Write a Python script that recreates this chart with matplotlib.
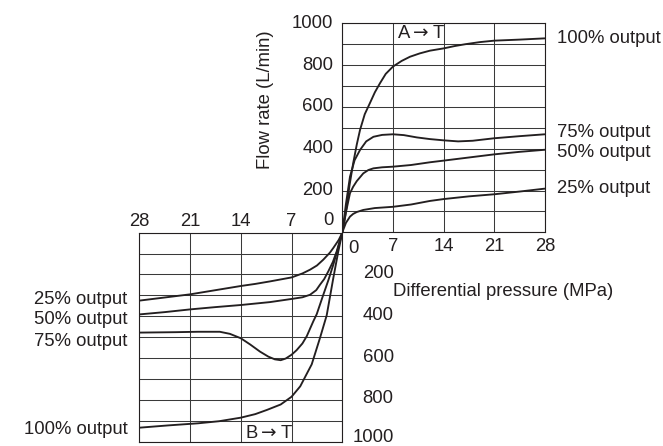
import matplotlib
matplotlib.use("Agg")
import matplotlib.pyplot as plt
from matplotlib.transforms import ScaledTranslation

plt.rcParams['font.family'] = ['Liberation Sans', 'DejaVu Sans']
plt.rcParams['font.size'] = 13.3

INK = '#231f20'
GRID = '#3a3a3a'

# --- A -> T (upper right), pressure in MPa, flow in L/min ---
at_100_x = [0, 0.3, 0.6, 1.0, 1.5, 2.0, 2.45, 3.1, 3.8, 4.5, 5.2, 6.0, 7, 8.2, 9.35, 10.7, 12.1, 14, 15.5, 17, 19, 21, 24.5, 28]
at_100_y = [0, 55, 122, 225, 330, 420, 490, 565, 617, 670, 713, 758, 793, 820, 840, 856, 869, 880, 891, 900, 910, 917, 922, 928]
at_75_x = [0, 0.5, 1.06, 1.7, 2.45, 3.3, 4.3, 5.5, 7, 8.5, 10.3, 12.1, 14, 16, 18, 21, 24.5, 28]
at_75_y = [0, 135, 266, 345, 394, 435, 457, 466, 469, 465, 454, 446, 440, 435, 438, 450, 460, 469]
at_50_x = [0, 0.5, 1.06, 1.5, 2.0, 2.9, 3.6, 4.3, 5.5, 7, 9.5, 12.1, 14, 17.5, 21, 24.5, 28]
at_50_y = [0, 95, 187, 218, 245, 282, 298, 306, 311, 314, 322, 335, 343, 358, 373, 385, 395]
at_25_x = [0, 0.5, 1.06, 1.5, 2.0, 2.9, 4.5, 7, 9.5, 12.1, 14, 17.5, 21, 24.5, 28]
at_25_y = [0, 45, 75, 88, 97, 107, 116, 122, 133, 150, 159, 172, 182, 195, 209]

# --- B -> T (lower left), same units, both axes reversed ---
bt_25_x = [0, 0.5, 1.24, 1.7, 2.62, 3.5, 4.45, 5.5, 7, 9.97, 12, 14, 17.5, 21, 24.5, 28]
bt_25_y = [0, 35, 73, 95, 129, 157, 177, 195, 214, 233, 245, 255, 275, 295, 310, 325]
bt_50_x = [0, 0.4, 0.77, 1.3, 1.93, 2.5, 3.08, 3.6, 4.45, 5.5, 7, 9.97, 14, 17.5, 21, 24.5, 28]
bt_50_y = [0, 45, 89, 140, 185, 222, 249, 275, 297, 309, 317, 332, 346, 356, 367, 380, 391]
bt_75_x = [0, 0.6, 1.24, 1.9, 2.62, 3.53, 4.0, 4.9, 5.5, 6.3, 7, 7.8, 8.5, 9.3, 10.2, 11.35, 12.7, 14, 15.5, 16.9, 19.9, 23, 28]
bt_75_y = [0, 75, 153, 225, 297, 390, 424, 495, 530, 562, 584, 602, 610, 606, 593, 569, 535, 505, 484, 474, 474, 476, 478]
bt_100_x = [0, 0.55, 1.24, 2.15, 3.08, 4.22, 4.9, 5.8, 7, 8.5, 10.4, 12, 14, 17, 19.9, 24, 28]
bt_100_y = [0, 89, 217, 395, 504, 630, 675, 735, 785, 822, 848, 868, 885, 902, 912, 922, 933]

p_ticks = [0, 7, 14, 21, 28]
q_major = [0, 200, 400, 600, 800, 1000]
q_minor = [100, 300, 500, 700, 900]

W, H = 663, 446


def px_rect(l, t, r, b):
    return [l / W, 1 - b / H, (r - l) / W, (b - t) / H]


fig = plt.figure(figsize=(W / 100, H / 100), dpi=100)
ax1 = fig.add_axes(px_rect(342.3, 23.3, 545, 232.3))
ax2 = fig.add_axes(px_rect(139.3, 232.7, 342.3, 441.7))

for ax in (ax1, ax2):
    ax.set_xticks(p_ticks)
    ax.set_yticks(q_major)
    ax.set_yticks(q_minor, minor=True)
    ax.grid(True, which='both', color=GRID, lw=0.75)
    ax.tick_params(which='both', length=0, colors=INK, labelsize=13.3)
    for s in ax.spines.values():
        s.set_color(INK)
        s.set_linewidth(0.8)

# upper right
ax1.set_xlim(0, 28)
ax1.set_ylim(0, 1000)
ax1.set_xticklabels([''] + [str(v) for v in p_ticks[1:]])
ax1.set_yticklabels([''] + [str(v) for v in q_major[1:]])
ax1.tick_params(axis='x', pad=4)
ax1.tick_params(axis='y', pad=6.5)

# lower left
ax2.set_xlim(28, 0)
ax2.set_ylim(1000, 0)
ax2.xaxis.tick_top()
ax2.yaxis.tick_right()
ax2.set_xticklabels([''] + [str(v) for v in p_ticks[1:]])
ax2.set_yticklabels([''] + [str(v) for v in q_major[1:]], ha='right')
ax2.tick_params(axis='x', pad=2)
ax2.tick_params(axis='y', pad=37)

# value labels sit a touch above their grid lines
up1 = ScaledTranslation(0, 2.0 / 100, fig.dpi_scale_trans)
for lab in ax1.get_yticklabels():
    lab.set_transform(lab.get_transform() + up1)
labs2 = ax2.get_yticklabels()
for i, lab in enumerate(labs2):
    dy = 6.5 if i == len(labs2) - 1 else 3.0  # keep the bottom label inside the figure
    lab.set_transform(lab.get_transform() + ScaledTranslation(0, dy / 100, fig.dpi_scale_trans))

lw = 1.35
at_series = [(at_100_x, at_100_y, '100% output', 0),
             (at_75_x, at_75_y, '75% output', 2),
             (at_50_x, at_50_y, '50% output', -3),
             (at_25_x, at_25_y, '25% output', 0)]
for xs, ys, lab, dy in at_series:
    ax1.plot(xs, ys, color=INK, lw=lw, solid_capstyle='butt')
    ax1.annotate(lab, (xs[-1], ys[-1]), xytext=(12, dy), textcoords='offset pixels',
                 ha='left', va='center', color=INK, annotation_clip=False)

bt_series = [(bt_25_x, bt_25_y, '25% output', 1),
             (bt_50_x, bt_50_y, '50% output', -5),
             (bt_75_x, bt_75_y, '75% output', -9),
             (bt_100_x, bt_100_y, '100% output', -2)]
for xs, ys, lab, dy in bt_series:
    ax2.plot(xs, ys, color=INK, lw=lw, solid_capstyle='butt')
    ax2.annotate(lab, (xs[-1], ys[-1]), xytext=(-12, dy), textcoords='offset pixels',
                 ha='right', va='center', color=INK, annotation_clip=False)

ax1.text(7.5, 950, 'A$\\rightarrow$T', ha='left', va='center', color=INK)
ax2.text(13.4, 960, 'B$\\rightarrow$T', ha='left', va='center', color=INK)

# shared zero labels at the origin
ax1.annotate('0', (0, 0), xytext=(-9, 12), textcoords='offset pixels',
             ha='right', va='center', color=INK, annotation_clip=False)
ax1.annotate('0', (0, 0), xytext=(11, -16), textcoords='offset pixels',
             ha='center', va='center', color=INK, annotation_clip=False)

ax1.text(-0.381, 0.633, 'Flow rate (L/min)', transform=ax1.transAxes,
         rotation=90, ha='center', va='center', color=INK)
ax1.text(0.2516, -0.284, 'Differential pressure (MPa)', transform=ax1.transAxes,
         ha='left', va='center', color=INK)

fig.savefig('out.png', dpi=100)
